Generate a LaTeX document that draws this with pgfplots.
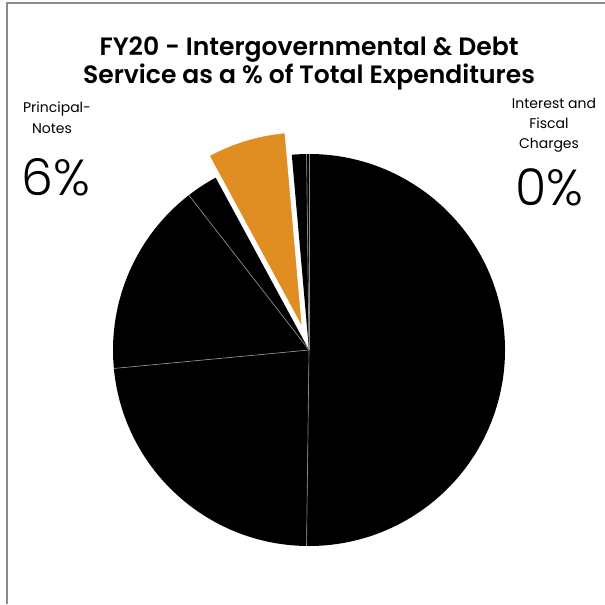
\documentclass[border=0pt]{standalone}
\usepackage{pgfplots}
\pgfplotsset{compat=1.18}
\usepackage{pgfplotstable}
\usepackage{fontspec}
\setmainfont{Poppins}[BoldFont={Poppins SemiBold}]
\newfontfamily\lightfont{Poppins Light}
\definecolor{pieorange}{RGB}{224,142,34}
\definecolor{framegray}{RGB}{140,140,140}

\pgfplotstableread{
category value
Slice1 50.2
Slice2 23.3
Slice3 16.0
Slice4 2.6
PrincipalNotes 6.5
Slice6 1.2
InterestFiscal 0.2
}\pietable

\newcommand\pieslice[5]{%
  \fill[#3] (axis cs:#4,#5) -- (axis cs:{#4+196*cos(#1)},{#5+196*sin(#1)})
    arc[start angle=#1,end angle=#2,radius=147pt] -- cycle;}
\newcommand\pieedge[1]{%
  \draw[white!55!black,line width=0.5pt] (axis cs:0,0) -- (axis cs:{196*cos(#1)},{196*sin(#1)});}

\begin{document}%
\begin{tikzpicture}[x=0.75pt,y=-0.75pt]
\pgfplotstablegetelem{0}{value}\of\pietable \pgfmathsetmacro\vA{\pgfplotsretval}
\pgfplotstablegetelem{1}{value}\of\pietable \pgfmathsetmacro\vB{\pgfplotsretval}
\pgfplotstablegetelem{2}{value}\of\pietable \pgfmathsetmacro\vC{\pgfplotsretval}
\pgfplotstablegetelem{3}{value}\of\pietable \pgfmathsetmacro\vD{\pgfplotsretval}
\pgfplotstablegetelem{4}{value}\of\pietable \pgfmathsetmacro\vE{\pgfplotsretval}
\pgfplotstablegetelem{5}{value}\of\pietable \pgfmathsetmacro\vF{\pgfplotsretval}
\pgfplotstablegetelem{6}{value}\of\pietable \pgfmathsetmacro\vG{\pgfplotsretval}
\pgfmathsetmacro\aA{90}
\pgfmathsetmacro\aB{\aA-3.6*\vA}
\pgfmathsetmacro\aC{\aB-3.6*\vB}
\pgfmathsetmacro\aD{\aC-3.6*\vC}
\pgfmathsetmacro\aE{\aD-3.6*\vD}
\pgfmathsetmacro\aF{\aE-3.6*\vE}
\pgfmathsetmacro\aG{\aF-3.6*\vF}
\pgfmathsetmacro\aH{\aG-3.6*\vG}
\pgfmathsetmacro\aMid{(\aE+\aF)/2}
\pgfmathsetmacro\exX{23*cos(\aMid)}
\pgfmathsetmacro\exY{23*sin(\aMid)}
\path[use as bounding box] (0,0) rectangle (605,604);
\draw[framegray,line width=1.5pt] (7,604) -- (7,3) -- (605,3);
\coordinate (C) at (309,350);
\begin{axis}[at={(C)},anchor=center,hide axis,scale only axis,
  x=0.75pt,y=0.75pt,xmin=-250,xmax=250,ymin=-250,ymax=250,clip=false]
\pieslice{\aA}{\aB}{black}{0}{0}
\pieslice{\aB}{\aC}{black}{0}{0}
\pieslice{\aC}{\aD}{black}{0}{0}
\pieslice{\aD}{\aE}{black}{0}{0}
\pieslice{\aF}{\aG}{black}{0}{0}
\pieslice{\aG}{\aH}{black}{0}{0}
\pieedge{\aA}
\pieedge{\aB}
\pieedge{\aC}
\pieedge{\aD}
\pieedge{\aG}
\pieslice{\aE}{\aF}{pieorange,draw=white,line width=0.8pt}{\exX}{\exY}
\end{axis}
\node[anchor=base] at (309,55) {\fontsize{18.8}{22}\selectfont\bfseries FY20 - Intergovernmental \& Debt};
\node[anchor=base] at (309,83) {\fontsize{18.8}{22}\selectfont\bfseries Service as a \% of Total Expenditures};
\node[anchor=base] at (57,112) {\fontsize{10.5}{12}\selectfont Principal-};
\node[anchor=base] at (52,133) {\fontsize{10.5}{12}\selectfont Notes};
\node[anchor=base] at (56,195) {\fontsize{38}{40}\selectfont\lightfont 6\%};
\node[anchor=base] at (554,108) {\fontsize{10.5}{12}\selectfont Interest and};
\node[anchor=base] at (549,128) {\fontsize{10.5}{12}\selectfont Fiscal};
\node[anchor=base] at (549,148) {\fontsize{10.5}{12}\selectfont Charges};
\node[anchor=base] at (549,205) {\fontsize{38}{40}\selectfont\lightfont 0\%};
\end{tikzpicture}%
\end{document}
